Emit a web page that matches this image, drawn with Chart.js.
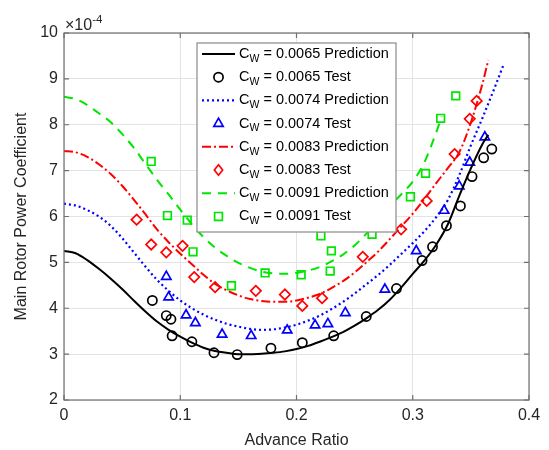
<!DOCTYPE html>
<html>
<head>
<meta charset="utf-8">
<script src="https://cdn.jsdelivr.net/npm/chart.js@4.4.1/dist/chart.umd.min.js"></script>
<style>
  html, body { margin: 0; padding: 0; background: #fff; }
  #wrap { width: 549px; height: 450px; }
</style>
</head>
<body>
<div id="wrap"><canvas id="rotorChart" width="549" height="450"></canvas></div>
<script>
// Advance ratio values for each predicted curve, power coefficient in units of 1e-4
const pred0065X = [0, 0.01, 0.02, 0.03, 0.04, 0.05, 0.06, 0.07, 0.08, 0.09, 0.10, 0.11, 0.12, 0.13, 0.14, 0.15, 0.16, 0.17, 0.18, 0.19, 0.20, 0.21, 0.22, 0.23, 0.24, 0.25, 0.26, 0.27, 0.28, 0.29, 0.30, 0.31, 0.32, 0.33, 0.34, 0.35, 0.36, 0.365];
const pred0065Y = [5.25, 5.20, 5.05, 4.86, 4.65, 4.42, 4.17, 3.93, 3.71, 3.53, 3.38, 3.25, 3.14, 3.07, 3.03, 3.00, 3.00, 3.01, 3.03, 3.06, 3.11, 3.18, 3.27, 3.37, 3.48, 3.62, 3.78, 3.96, 4.18, 4.45, 4.75, 5.04, 5.38, 5.82, 6.45, 7.05, 7.58, 7.78];

const pred0074X = [0, 0.01, 0.02, 0.03, 0.04, 0.05, 0.06, 0.07, 0.08, 0.09, 0.10, 0.11, 0.12, 0.13, 0.14, 0.15, 0.16, 0.17, 0.18, 0.19, 0.20, 0.21, 0.22, 0.23, 0.24, 0.25, 0.26, 0.27, 0.28, 0.29, 0.30, 0.31, 0.32, 0.33, 0.34, 0.35, 0.36, 0.37, 0.378];
const pred0074Y = [6.28, 6.24, 6.14, 6.00, 5.80, 5.53, 5.22, 4.91, 4.62, 4.38, 4.17, 4.00, 3.86, 3.75, 3.66, 3.60, 3.55, 3.53, 3.54, 3.58, 3.64, 3.73, 3.84, 3.98, 4.14, 4.32, 4.52, 4.72, 4.94, 5.18, 5.42, 5.68, 5.98, 6.35, 6.90, 7.55, 8.15, 8.78, 9.30];

const pred0083X = [0, 0.01, 0.02, 0.03, 0.04, 0.05, 0.06, 0.07, 0.08, 0.09, 0.10, 0.11, 0.12, 0.13, 0.14, 0.15, 0.16, 0.17, 0.18, 0.19, 0.20, 0.21, 0.22, 0.23, 0.24, 0.25, 0.26, 0.27, 0.28, 0.29, 0.30, 0.31, 0.32, 0.33, 0.34, 0.35, 0.36, 0.365];
const pred0083Y = [7.43, 7.40, 7.30, 7.14, 6.93, 6.67, 6.37, 6.05, 5.72, 5.44, 5.19, 4.96, 4.73, 4.53, 4.39, 4.28, 4.20, 4.16, 4.14, 4.14, 4.17, 4.23, 4.31, 4.44, 4.59, 4.78, 5.00, 5.23, 5.50, 5.78, 6.06, 6.38, 6.72, 7.05, 7.40, 8.05, 8.90, 9.41];

const pred0091X = [0, 0.01, 0.02, 0.03, 0.04, 0.05, 0.06, 0.07, 0.08, 0.09, 0.10, 0.11, 0.12, 0.13, 0.14, 0.15, 0.16, 0.17, 0.18, 0.19, 0.20, 0.21, 0.22, 0.23, 0.24, 0.25, 0.26, 0.27, 0.28, 0.29, 0.30, 0.31, 0.32, 0.325];
const pred0091Y = [8.61, 8.56, 8.43, 8.25, 8.06, 7.80, 7.50, 7.15, 6.80, 6.48, 6.15, 5.83, 5.55, 5.32, 5.14, 4.99, 4.88, 4.80, 4.76, 4.75, 4.77, 4.82, 4.90, 5.02, 5.17, 5.37, 5.62, 5.92, 6.22, 6.48, 6.76, 7.18, 7.82, 8.18];

// Test points
const test0065X = [0.076, 0.088, 0.092, 0.093, 0.110, 0.129, 0.149, 0.178, 0.205, 0.232, 0.260, 0.286, 0.308, 0.317, 0.329, 0.341, 0.351, 0.361, 0.368];
const test0065Y = [4.17, 3.84, 3.76, 3.40, 3.27, 3.03, 2.99, 3.13, 3.25, 3.40, 3.82, 4.43, 5.04, 5.34, 5.80, 6.23, 6.87, 7.28, 7.47];

const test0074X = [0.088, 0.090, 0.105, 0.113, 0.136, 0.161, 0.192, 0.216, 0.227, 0.242, 0.276, 0.303, 0.327, 0.340, 0.349, 0.362];
const test0074Y = [4.69, 4.24, 3.85, 3.68, 3.43, 3.40, 3.52, 3.63, 3.66, 3.90, 4.41, 5.25, 6.13, 6.66, 7.18, 7.73];

const test0083X = [0.0625, 0.075, 0.088, 0.102, 0.112, 0.130, 0.165, 0.190, 0.205, 0.222, 0.257, 0.290, 0.312, 0.336, 0.349, 0.355];
const test0083Y = [5.93, 5.39, 5.22, 5.36, 4.68, 4.46, 4.38, 4.30, 4.05, 4.22, 5.12, 5.72, 6.34, 7.36, 8.13, 8.52];

const test0091X = [0.075, 0.089, 0.106, 0.111, 0.144, 0.173, 0.204, 0.221, 0.229, 0.230, 0.265, 0.298, 0.311, 0.324, 0.337];
const test0091Y = [7.20, 6.02, 5.92, 5.23, 4.49, 4.77, 4.73, 5.58, 4.81, 5.25, 5.61, 6.43, 6.94, 8.14, 8.63];

// Legend labels (value after the C_W)
const weightLabels = ['0.0065', '0.0074', '0.0083', '0.0091'];
const seriesColors = ['#000000', '#0000ff', '#ff0000', '#00e600'];

const xTicks = [0, 0.1, 0.2, 0.3, 0.4];
const yTicks = [2, 3, 4, 5, 6, 7, 8, 9, 10];

// Turns two arrays into {x, y} points for Chart.js
function toPoints(xs, ys) {
    return xs.map((x, i) => ({ x: x, y: ys[i] }));
}

function predictionSet(i, xs, ys, dash, width) {
    return {
        label: 'C_W = ' + weightLabels[i] + ' Prediction',
        data: toPoints(xs, ys),
        showLine: true,
        borderColor: seriesColors[i],
        borderWidth: width,
        borderDash: dash,
        pointRadius: 0,
        cubicInterpolationMode: 'monotone',
        fill: false
    };
}

function testSet(i, xs, ys, style, radius) {
    return {
        label: 'C_W = ' + weightLabels[i] + ' Test',
        data: toPoints(xs, ys),
        showLine: false,
        borderColor: seriesColors[i],
        backgroundColor: 'rgba(0,0,0,0)',
        pointStyle: style,
        pointRadius: radius,
        pointBorderWidth: 1.7,
        pointHoverRadius: radius
    };
}

const datasets = [
    predictionSet(0, pred0065X, pred0065Y, [], 2),
    testSet(0, test0065X, test0065Y, 'circle', 4.6),
    predictionSet(1, pred0074X, pred0074Y, [2, 3], 2.2),
    testSet(1, test0074X, test0074Y, 'triangle', 5.4),
    predictionSet(2, pred0083X, pred0083Y, [9, 3, 2, 3], 2),
    testSet(2, test0083X, test0083Y, 'rectRot', 5.2),
    predictionSet(3, pred0091X, pred0091Y, [9, 7], 2),
    testSet(3, test0091X, test0091Y, 'rect', 5.4)
];

// Small marker helper for the legend
function drawMarker(ctx, style, x, y, r) {
    ctx.beginPath();
    if (style === 'circle') {
        ctx.arc(x, y, r, 0, Math.PI * 2);
    } else if (style === 'triangle') {
        ctx.moveTo(x, y - r);
        ctx.lineTo(x + r * 0.866, y + r * 0.5);
        ctx.lineTo(x - r * 0.866, y + r * 0.5);
        ctx.closePath();
    } else if (style === 'rectRot') {
        ctx.moveTo(x, y - r);
        ctx.lineTo(x + r * 0.8, y);
        ctx.lineTo(x, y + r);
        ctx.lineTo(x - r * 0.8, y);
        ctx.closePath();
    } else {
        const s = r * 0.72;
        ctx.rect(x - s, y - s, s * 2, s * 2);
    }
    ctx.stroke();
}

// Box, inward ticks, exponent label and legend, drawn MATLAB style
const matlabFrame = {
    id: 'matlabFrame',
    afterDatasetsDraw(chart) {
        const ctx = chart.ctx;
        const a = chart.chartArea;
        const xs = chart.scales.x;
        const ys = chart.scales.y;
        ctx.save();
        ctx.strokeStyle = '#707070';
        ctx.lineWidth = 1.2;
        ctx.strokeRect(a.left, a.top, a.right - a.left, a.bottom - a.top);
        ctx.beginPath();
        xTicks.forEach(v => {
            const px = xs.getPixelForValue(v);
            ctx.moveTo(px, a.bottom); ctx.lineTo(px, a.bottom - 5);
            ctx.moveTo(px, a.top); ctx.lineTo(px, a.top + 5);
        });
        yTicks.forEach(v => {
            const py = ys.getPixelForValue(v);
            ctx.moveTo(a.left, py); ctx.lineTo(a.left + 5, py);
            ctx.moveTo(a.right, py); ctx.lineTo(a.right - 5, py);
        });
        ctx.stroke();

        // exponent label above the y axis
        ctx.fillStyle = '#262626';
        ctx.textBaseline = 'alphabetic';
        ctx.textAlign = 'left';
        ctx.font = '16px "Liberation Sans", Arial, sans-serif';
        ctx.fillText('\u00d710', a.left + 1, 30);
        const w = ctx.measureText('\u00d710').width;
        ctx.font = '11.5px "Liberation Sans", Arial, sans-serif';
        ctx.fillText('-4', a.left + 1 + w, 23);
        ctx.restore();
    },
    afterDraw(chart) {
        const ctx = chart.ctx;
        const boxLeft = 197, boxTop = 43, boxW = 199, boxH = 189;
        ctx.save();
        ctx.fillStyle = '#ffffff';
        ctx.fillRect(boxLeft, boxTop, boxW, boxH);
        ctx.strokeStyle = '#8a8a8a';
        ctx.lineWidth = 1.2;
        ctx.strokeRect(boxLeft, boxTop, boxW, boxH);

        const rowH = 23.2;
        chart.data.datasets.forEach((ds, i) => {
            const cy = 54 + i * rowH;
            ctx.strokeStyle = ds.borderColor;
            if (ds.showLine) {
                ctx.lineWidth = ds.borderWidth;
                ctx.setLineDash(ds.borderDash);
                ctx.beginPath();
                ctx.moveTo(202, cy);
                ctx.lineTo(235, cy);
                ctx.stroke();
                ctx.setLineDash([]);
            } else {
                ctx.lineWidth = ds.pointBorderWidth;
                drawMarker(ctx, ds.pointStyle, 218.5, cy, ds.pointRadius);
            }
            // C with subscript W, then the rest of the label
            ctx.fillStyle = '#000000';
            ctx.textAlign = 'left';
            ctx.textBaseline = 'middle';
            ctx.font = '14.5px "Liberation Sans", Arial, sans-serif';
            let tx = 239;
            ctx.fillText('C', tx, cy);
            tx += ctx.measureText('C').width;
            ctx.font = '10.5px "Liberation Sans", Arial, sans-serif';
            ctx.fillText('W', tx, cy + 5);
            tx += ctx.measureText('W').width;
            ctx.font = '14.5px "Liberation Sans", Arial, sans-serif';
            ctx.fillText(ds.label.replace('C_W', ''), tx, cy);
        });
        ctx.restore();
    }
};

const ctx = document.getElementById('rotorChart').getContext('2d');

new Chart(ctx, {
    type: 'scatter',
    data: { datasets: datasets },
    options: {
        responsive: false,
        animation: false,
        events: [],
        layout: { padding: { top: 33, right: 20, left: 0, bottom: 0 } },
        plugins: {
            legend: { display: false },
            tooltip: { enabled: false }
        },
        scales: {
            x: {
                type: 'linear',
                min: 0,
                max: 0.4,
                afterFit: scale => { scale.height = 50; },
                afterBuildTicks: scale => { scale.ticks = xTicks.map(v => ({ value: v })); },
                ticks: {
                    color: '#262626',
                    padding: 6,
                    maxRotation: 0,
                    font: { family: '"Liberation Sans", Arial, sans-serif', size: 16 },
                    callback: v => String(+v.toFixed(1))
                },
                grid: { color: '#e3e3e3', lineWidth: 1, drawTicks: false },
                border: { display: false },
                title: {
                    display: true,
                    text: 'Advance Ratio',
                    color: '#262626',
                    padding: { top: 0, bottom: 0 },
                    font: { family: '"Liberation Sans", Arial, sans-serif', size: 16 }
                }
            },
            y: {
                type: 'linear',
                min: 2,
                max: 10,
                afterFit: scale => { scale.width = 64; },
                afterBuildTicks: scale => { scale.ticks = yTicks.map(v => ({ value: v })); },
                ticks: {
                    color: '#262626',
                    padding: 6,
                    font: { family: '"Liberation Sans", Arial, sans-serif', size: 16 }
                },
                grid: { color: '#e3e3e3', lineWidth: 1, drawTicks: false },
                border: { display: false },
                title: {
                    display: true,
                    text: 'Main Rotor Power Coefficient',
                    color: '#262626',
                    padding: { top: 12, bottom: 0 },
                    font: { family: '"Liberation Sans", Arial, sans-serif', size: 16 }
                }
            }
        }
    },
    plugins: [matlabFrame]
});
</script>
</body>
</html>
